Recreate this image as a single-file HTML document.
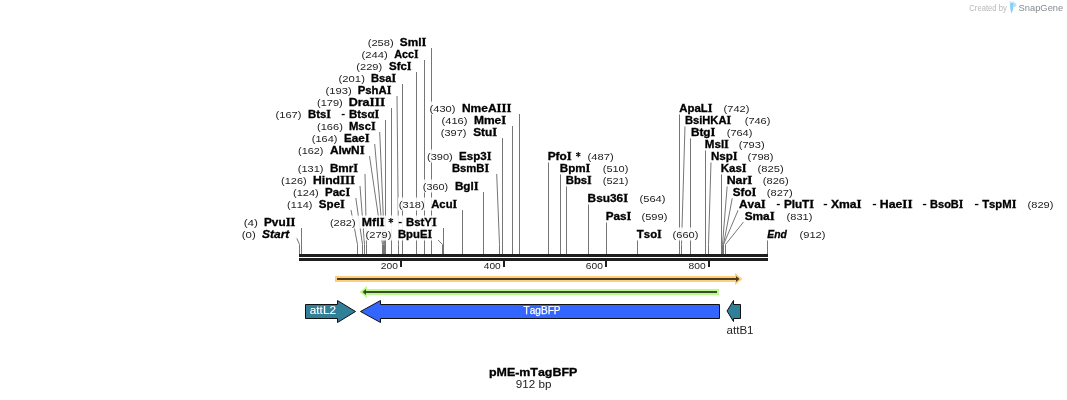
<!DOCTYPE html>
<html><head><meta charset="utf-8"><style>
html,body{margin:0;padding:0;background:#fff;width:1067px;height:400px;overflow:hidden}
svg{display:block;will-change:transform}
text{font-family:"Liberation Sans",sans-serif;font-kerning:none}
.n{font-size:8.8px;fill:#222222}
.b{font-size:10.8px;font-weight:bold;fill:#000;stroke:#000;stroke-width:0.3px}
.bi{font-size:10.8px;font-weight:bold;font-style:italic;fill:#000;stroke:#000;stroke-width:0.3px}
.t{font-size:8.6px;fill:#222}
.m{font-family:"Liberation Serif",serif;font-size:11.45px}
.f{font-size:10px;fill:#fff}
.k{font-size:10.5px;fill:#222}
.r{font-size:8px}
</style></head><body>
<svg width="1067" height="400" viewBox="0 0 1067 400">
<path d="M431.5 48 V254 M424.5 60 V254 M416.5 72 V254 M402.5 84 V254 M397 96 L398.5 244.5 V254 M391.5 108 V254 M385.5 120 V254 M379.7 132 L384.5 244.5 V254 M374.7 144 L383.5 244.5 V254 M369.5 156 L382.5 244.5 V254 M365 174 L366.5 244.5 V254 M360 186 L364.5 244.5 V254 M355.8 198 L362.5 244.5 V254 M351 210 L357.5 244.5 V254 M301.5 228 V254 M296.8 238.3 L299.5 244.5 V254 M443.5 228 V254 M438.2 240 L442.5 244.5 V254 M462.5 210 V254 M483.5 192 V254 M496.7 174 L499.5 244.5 V254 M502.5 138 V254 M512.5 126 V254 M519.5 114 V254 M548.5 162 V254 M560.5 174 V254 M566.5 186 V254 M588.5 204 V254 M606.5 222 V254 M637.5 240 V254 M679.5 114 V254 M685 126 L681.5 244.5 V254 M690.5 138 V254 M705.5 150 V254 M711 162 L708.5 244.5 V254 M721.5 174 V254 M727.2 186 L722.5 244.5 V254 M732.3 198 L723.5 244.5 V254 M738.2 210 L723.5 244.5 V254 M743.5 222 L725.5 244.5 V254 M767.5 240 V254" stroke="#767676" stroke-width="1" fill="none"/>
<g fill="#fff" fill-opacity="0.88"><rect x="366.9" y="35.5" width="60.6" height="13"/><rect x="360.7" y="47.5" width="59" height="13"/><rect x="355.5" y="59.5" width="57.2" height="13"/><rect x="337.8" y="71.5" width="59.4" height="13"/><rect x="324.7" y="83.5" width="67.8" height="13"/><rect x="316.2" y="95.5" width="70" height="13"/><rect x="274.7" y="107.5" width="105.6" height="13"/><rect x="316.2" y="119.5" width="60.5" height="13"/><rect x="311" y="131.5" width="59.7" height="13"/><rect x="297.2" y="143.5" width="68.5" height="13"/><rect x="297" y="161.5" width="62.2" height="13"/><rect x="280.2" y="173.5" width="76" height="13"/><rect x="292.2" y="185.5" width="59.1" height="13"/><rect x="286.2" y="197.5" width="59.8" height="13"/><rect x="242.9" y="215.5" width="53.6" height="13"/><rect x="241" y="227.5" width="50.25" height="13"/><rect x="329.1" y="215.5" width="108.6" height="13"/><rect x="364.7" y="227.5" width="68.5" height="13"/><rect x="398" y="197.5" width="60.3" height="13"/><rect x="422" y="179.5" width="57.7" height="13"/><rect x="426.2" y="149.5" width="66.3" height="13"/><rect x="451.2" y="161.5" width="39" height="13"/><rect x="440" y="125.5" width="58.3" height="13"/><rect x="440.7" y="113.5" width="66.6" height="13"/><rect x="428.7" y="101.5" width="83.8" height="13"/><rect x="547" y="149.5" width="67.5" height="13"/><rect x="559" y="161.5" width="70.2" height="13"/><rect x="565" y="173.5" width="64.2" height="13"/><rect x="586.9" y="191.5" width="79.4" height="13"/><rect x="605" y="209.5" width="63.2" height="13"/><rect x="635.5" y="227.5" width="63.7" height="13"/><rect x="678" y="101.5" width="72.2" height="13"/><rect x="684.2" y="113.5" width="87" height="13"/><rect x="690.2" y="125.5" width="63" height="13"/><rect x="704" y="137.5" width="61.5" height="13"/><rect x="710.2" y="149.5" width="64.1" height="13"/><rect x="720" y="161.5" width="64.5" height="13"/><rect x="726" y="173.5" width="63.5" height="13"/><rect x="731.7" y="185.5" width="61.8" height="13"/><rect x="737.8" y="197.5" width="316.5" height="13"/><rect x="743.5" y="209.5" width="69.7" height="13"/><rect x="766" y="227.5" width="60.3" height="13"/></g>
<text x="367.71" y="46" textLength="25.98" lengthAdjust="spacingAndGlyphs" class="n">(258)</text><text x="399.86" y="46" textLength="26.56" lengthAdjust="spacingAndGlyphs" class="b">Sml<tspan class="m">I</tspan></text><text x="361.5" y="58" textLength="26.19" lengthAdjust="spacingAndGlyphs" class="n">(244)</text><text x="394.23" y="58" textLength="24.36" lengthAdjust="spacingAndGlyphs" class="b">Acc<tspan class="m">I</tspan></text><text x="356.31" y="70" textLength="25.87" lengthAdjust="spacingAndGlyphs" class="n">(229)</text><text x="388.97" y="70" textLength="22.64" lengthAdjust="spacingAndGlyphs" class="b">Sfc<tspan class="m">I</tspan></text><text x="338.6" y="82" textLength="26.3" lengthAdjust="spacingAndGlyphs" class="n">(201)</text><text x="370.95" y="82" textLength="25.15" lengthAdjust="spacingAndGlyphs" class="b">Bsa<tspan class="m">I</tspan></text><text x="325.5" y="94" textLength="26.19" lengthAdjust="spacingAndGlyphs" class="n">(193)</text><text x="357.74" y="94" textLength="33.66" lengthAdjust="spacingAndGlyphs" class="b">PshA<tspan class="m">I</tspan></text><text x="317.02" y="106" textLength="25.66" lengthAdjust="spacingAndGlyphs" class="n">(179)</text><text x="348.66" y="106" textLength="36.49" lengthAdjust="spacingAndGlyphs" class="b">Dra<tspan class="m">III</tspan></text><text x="275.51" y="118" textLength="25.98" lengthAdjust="spacingAndGlyphs" class="n">(167)</text><text x="307.94" y="118" textLength="22.96" lengthAdjust="spacingAndGlyphs" class="b">Bts<tspan class="m">I</tspan></text><rect x="341.7" y="113.9" width="3" height="1.3" fill="#000"/><text x="348.93" y="118" textLength="30.28" lengthAdjust="spacingAndGlyphs" class="b">Btsα<tspan class="m">I</tspan></text><text x="317.01" y="130" textLength="25.87" lengthAdjust="spacingAndGlyphs" class="n">(166)</text><text x="348.94" y="130" textLength="26.66" lengthAdjust="spacingAndGlyphs" class="b">Msc<tspan class="m">I</tspan></text><text x="311.82" y="142" textLength="25.66" lengthAdjust="spacingAndGlyphs" class="n">(164)</text><text x="343.92" y="142" textLength="25.7" lengthAdjust="spacingAndGlyphs" class="b">Eae<tspan class="m">I</tspan></text><text x="298.03" y="154" textLength="25.35" lengthAdjust="spacingAndGlyphs" class="n">(162)</text><text x="329.9" y="154" textLength="34.72" lengthAdjust="spacingAndGlyphs" class="b">AlwN<tspan class="m">I</tspan></text><text x="297.82" y="172" textLength="25.66" lengthAdjust="spacingAndGlyphs" class="n">(131)</text><text x="329.92" y="172" textLength="28.2" lengthAdjust="spacingAndGlyphs" class="b">Bmr<tspan class="m">I</tspan></text><text x="281.02" y="184" textLength="25.66" lengthAdjust="spacingAndGlyphs" class="n">(126)</text><text x="312.98" y="184" textLength="42.15" lengthAdjust="spacingAndGlyphs" class="b">Hind<tspan class="m">III</tspan></text><text x="293.02" y="196" textLength="25.66" lengthAdjust="spacingAndGlyphs" class="n">(124)</text><text x="325.03" y="196" textLength="25.18" lengthAdjust="spacingAndGlyphs" class="b">Pac<tspan class="m">I</tspan></text><text x="287.03" y="208" textLength="25.35" lengthAdjust="spacingAndGlyphs" class="n">(114)</text><text x="318.87" y="208" textLength="26.05" lengthAdjust="spacingAndGlyphs" class="b">Spe<tspan class="m">I</tspan></text><text x="243.67" y="226" textLength="14.36" lengthAdjust="spacingAndGlyphs" class="n">(4)</text><text x="263.96" y="226" textLength="31.46" lengthAdjust="spacingAndGlyphs" class="b">Pvu<tspan class="m">II</tspan></text><text x="241.79" y="238" textLength="13.91" lengthAdjust="spacingAndGlyphs" class="n">(0)</text><text x="262.1" y="238" textLength="27.24" lengthAdjust="spacingAndGlyphs" class="bi">Start</text><text x="329.92" y="226" textLength="25.77" lengthAdjust="spacingAndGlyphs" class="n">(282)</text><text x="361.88" y="226" textLength="22.76" lengthAdjust="spacingAndGlyphs" class="b">Mfl<tspan class="m">I</tspan></text><path d="M390.85 218 V223.2 M388.6 219.3 L393.1 221.9 M388.6 221.9 L393.1 219.3" stroke="#000" stroke-width="1.05" fill="none"/><rect x="398.7" y="221.9" width="3" height="1.3" fill="#000"/><text x="405.94" y="226" textLength="30.67" lengthAdjust="spacingAndGlyphs" class="b">BstY<tspan class="m">I</tspan></text><text x="365.51" y="238" textLength="25.98" lengthAdjust="spacingAndGlyphs" class="n">(279)</text><text x="397.94" y="238" textLength="34.16" lengthAdjust="spacingAndGlyphs" class="b">BpuE<tspan class="m">I</tspan></text><text x="398.81" y="208" textLength="25.87" lengthAdjust="spacingAndGlyphs" class="n">(318)</text><text x="431.22" y="208" textLength="25.98" lengthAdjust="spacingAndGlyphs" class="b">Acu<tspan class="m">I</tspan></text><text x="422.83" y="190" textLength="25.35" lengthAdjust="spacingAndGlyphs" class="n">(360)</text><text x="454.92" y="190" textLength="23.7" lengthAdjust="spacingAndGlyphs" class="b">Bgl<tspan class="m">I</tspan></text><text x="427.02" y="160" textLength="25.66" lengthAdjust="spacingAndGlyphs" class="n">(390)</text><text x="459.03" y="160" textLength="32.39" lengthAdjust="spacingAndGlyphs" class="b">Esp3<tspan class="m">I</tspan></text><text x="451.95" y="172" textLength="37.15" lengthAdjust="spacingAndGlyphs" class="b">BsmB<tspan class="m">I</tspan></text><text x="440.82" y="136" textLength="25.56" lengthAdjust="spacingAndGlyphs" class="n">(397)</text><text x="473.16" y="136" textLength="24.07" lengthAdjust="spacingAndGlyphs" class="b">Stu<tspan class="m">I</tspan></text><text x="441.51" y="124" textLength="25.98" lengthAdjust="spacingAndGlyphs" class="n">(416)</text><text x="473.9" y="124" textLength="32.33" lengthAdjust="spacingAndGlyphs" class="b">Mme<tspan class="m">I</tspan></text><text x="429.51" y="112" textLength="25.98" lengthAdjust="spacingAndGlyphs" class="n">(430)</text><text x="461.9" y="112" textLength="49.53" lengthAdjust="spacingAndGlyphs" class="b">NmeA<tspan class="m">III</tspan></text><text x="587.61" y="160" textLength="26.09" lengthAdjust="spacingAndGlyphs" class="n">(487)</text><text x="547.71" y="160" textLength="23.91" lengthAdjust="spacingAndGlyphs" class="b">Pfo<tspan class="m">I</tspan></text><path d="M578.25 152 V157.2 M576.1 153.3 L580.4 155.9 M576.1 155.9 L580.4 153.3" stroke="#000" stroke-width="1.05" fill="none"/><text x="602.72" y="172" textLength="25.66" lengthAdjust="spacingAndGlyphs" class="n">(510)</text><text x="559.72" y="172" textLength="30.7" lengthAdjust="spacingAndGlyphs" class="b">Bpm<tspan class="m">I</tspan></text><text x="602.72" y="184" textLength="25.66" lengthAdjust="spacingAndGlyphs" class="n">(521)</text><text x="565.74" y="184" textLength="26.06" lengthAdjust="spacingAndGlyphs" class="b">Bbs<tspan class="m">I</tspan></text><text x="639.51" y="202" textLength="25.98" lengthAdjust="spacingAndGlyphs" class="n">(564)</text><text x="587.61" y="202" textLength="40.52" lengthAdjust="spacingAndGlyphs" class="b">Bsu36<tspan class="m">I</tspan></text><text x="641.51" y="220" textLength="25.87" lengthAdjust="spacingAndGlyphs" class="n">(599)</text><text x="605.72" y="220" textLength="25.7" lengthAdjust="spacingAndGlyphs" class="b">Pas<tspan class="m">I</tspan></text><text x="672.62" y="238" textLength="25.77" lengthAdjust="spacingAndGlyphs" class="n">(660)</text><text x="636.87" y="238" textLength="24.93" lengthAdjust="spacingAndGlyphs" class="b">Tso<tspan class="m">I</tspan></text><text x="723.62" y="112" textLength="25.77" lengthAdjust="spacingAndGlyphs" class="n">(742)</text><text x="679.22" y="112" textLength="33.19" lengthAdjust="spacingAndGlyphs" class="b">ApaL<tspan class="m">I</tspan></text><text x="744.72" y="124" textLength="25.66" lengthAdjust="spacingAndGlyphs" class="n">(746)</text><text x="684.95" y="124" textLength="46.15" lengthAdjust="spacingAndGlyphs" class="b">BsiHKA<tspan class="m">I</tspan></text><text x="726.72" y="136" textLength="25.66" lengthAdjust="spacingAndGlyphs" class="n">(764)</text><text x="690.91" y="136" textLength="24.51" lengthAdjust="spacingAndGlyphs" class="b">Btg<tspan class="m">I</tspan></text><text x="738.71" y="148" textLength="25.98" lengthAdjust="spacingAndGlyphs" class="n">(793)</text><text x="704.72" y="148" textLength="24.19" lengthAdjust="spacingAndGlyphs" class="b">Msl<tspan class="m">I</tspan></text><text x="747.51" y="160" textLength="25.98" lengthAdjust="spacingAndGlyphs" class="n">(798)</text><text x="710.92" y="160" textLength="26.69" lengthAdjust="spacingAndGlyphs" class="b">Nsp<tspan class="m">I</tspan></text><text x="757.5" y="172" textLength="26.19" lengthAdjust="spacingAndGlyphs" class="n">(825)</text><text x="720.73" y="172" textLength="25.88" lengthAdjust="spacingAndGlyphs" class="b">Kas<tspan class="m">I</tspan></text><text x="762.81" y="184" textLength="25.87" lengthAdjust="spacingAndGlyphs" class="n">(826)</text><text x="726.67" y="184" textLength="25.77" lengthAdjust="spacingAndGlyphs" class="b">Nar<tspan class="m">I</tspan></text><text x="766.81" y="196" textLength="25.87" lengthAdjust="spacingAndGlyphs" class="n">(827)</text><text x="732.86" y="196" textLength="23.55" lengthAdjust="spacingAndGlyphs" class="b">Sfo<tspan class="m">I</tspan></text><text x="1027.61" y="208" textLength="25.87" lengthAdjust="spacingAndGlyphs" class="n">(829)</text><text x="739.01" y="208" textLength="26.62" lengthAdjust="spacingAndGlyphs" class="b">Ava<tspan class="m">I</tspan></text><rect x="776.8" y="203.9" width="3" height="1.3" fill="#000"/><text x="783.92" y="208" textLength="30.2" lengthAdjust="spacingAndGlyphs" class="b">PluT<tspan class="m">I</tspan></text><rect x="823.7" y="203.9" width="3.4" height="1.3" fill="#000"/><text x="830.99" y="208" textLength="30.64" lengthAdjust="spacingAndGlyphs" class="b">Xma<tspan class="m">I</tspan></text><rect x="872.8" y="203.9" width="3.3" height="1.3" fill="#000"/><text x="879.78" y="208" textLength="32.76" lengthAdjust="spacingAndGlyphs" class="b">Hae<tspan class="m">II</tspan></text><rect x="922.9" y="203.9" width="3.4" height="1.3" fill="#000"/><text x="930.06" y="208" textLength="33.33" lengthAdjust="spacingAndGlyphs" class="b">BsoB<tspan class="m">I</tspan></text><rect x="974.9" y="203.9" width="3.5" height="1.3" fill="#000"/><text x="982.17" y="208" textLength="34.23" lengthAdjust="spacingAndGlyphs" class="b">TspM<tspan class="m">I</tspan></text><text x="786.62" y="220" textLength="25.77" lengthAdjust="spacingAndGlyphs" class="n">(831)</text><text x="744.66" y="220" textLength="29.97" lengthAdjust="spacingAndGlyphs" class="b">Sma<tspan class="m">I</tspan></text><text x="799.51" y="238" textLength="25.98" lengthAdjust="spacingAndGlyphs" class="n">(912)</text><text x="767.32" y="238" textLength="19.51" lengthAdjust="spacingAndGlyphs" class="bi">End</text>
<rect x="299" y="254" width="469" height="3" fill="#1e1e1e"/>
<rect x="299" y="258" width="469" height="3" fill="#1e1e1e"/>
<rect x="400" y="261" width="2" height="6" fill="#1e1e1e"/>
<rect x="503" y="261" width="2" height="6" fill="#1e1e1e"/>
<rect x="605" y="261" width="2" height="6" fill="#1e1e1e"/>
<rect x="708" y="261" width="2" height="6" fill="#1e1e1e"/>
<text x="380.78" y="269" textLength="17.12" lengthAdjust="spacingAndGlyphs" class="t">200</text>
<text x="483.77" y="269" textLength="16.93" lengthAdjust="spacingAndGlyphs" class="t">400</text>
<text x="585.78" y="269" textLength="17.12" lengthAdjust="spacingAndGlyphs" class="t">600</text>
<text x="688.55" y="269" textLength="17.15" lengthAdjust="spacingAndGlyphs" class="t">800</text>
<path d="M335 276 H735 V273 L742.5 279 L735 285 V282 H335 Z" fill="#fdcf7c"/>
<path d="M337 278 H736 V276 L739.5 279 L736 282 V280 H337 Z" fill="#4a3d24"/>
<path d="M719 289 H367 V286 L359.5 292 L367 298 V295 H719 Z" fill="#bafb8b"/>
<path d="M717 291 H366 V289 L362.5 292 L366 295 V293 H717 Z" fill="#3d4c2d"/>
<path d="M305.5 304.5 H337.5 V300.5 L355.5 311.5 L337.5 322.5 V318.5 H305.5 Z" fill="#30809a" stroke="#111" stroke-width="1"/>
<path d="M719.5 304.5 H380.5 V300.5 L360.5 311.5 L380.5 322.5 V318.5 H719.5 Z" fill="#3366ff" stroke="#111" stroke-width="1"/>
<path d="M740.5 304.5 H733.5 V300.5 L727 311 L733.5 321.5 V318.5 H740.5 Z" fill="#30809a" stroke="#111" stroke-width="1"/>
<text x="309.8" y="314" textLength="26.19" lengthAdjust="spacingAndGlyphs" class="f" style="font-size:10.3px;stroke:#fff;stroke-width:0.1px">attL2</text>
<text x="523.57" y="314" textLength="36.96" lengthAdjust="spacingAndGlyphs" class="f" style="stroke:#fff;stroke-width:0.25px">TagBFP</text>
<text x="726.51" y="334" textLength="27.06" lengthAdjust="spacingAndGlyphs" class="k" style="font-size:10.3px">attB1</text>
<text x="488.98" y="376" textLength="88.34" lengthAdjust="spacingAndGlyphs" class="b">pME-mTagBFP</text>
<text x="515.75" y="388" textLength="35.64" lengthAdjust="spacingAndGlyphs" class="k">912 bp</text>
<text x="969.31" y="10.8" textLength="37.61" lengthAdjust="spacingAndGlyphs" fill="#b8b8b8" class="r" style="font-size:8.6px">Created by</text>
<rect x="1009" y="1.3" width="5.5" height="1.6" fill="#d8f1fc"/>
<path d="M1013.4 2.6 Q1016.9 3 1016.4 5.3 Q1015.8 7.2 1013.3 7.4 Z" fill="#b8e4fa"/>
<path d="M1010 2.8 L1013.6 2.8 L1013.1 9 L1011.9 12.8 L1011.2 12.8 L1010.3 9 Z" fill="#86cff6"/>
<text x="1018.58" y="10.8" textLength="44.64" lengthAdjust="spacingAndGlyphs" fill="#858b94" class="r" style="font-size:9.3px">SnapGene</text>
</svg>
</body></html>
